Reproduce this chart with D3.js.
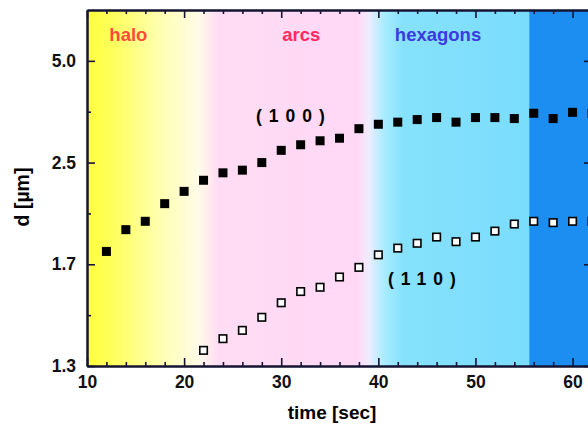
<!DOCTYPE html>
<html>
<head>
<meta charset="utf-8">
<script src="https://cdn.jsdelivr.net/npm/d3@7"></script>
<style>
  body { margin: 0; background: #fff; }
  text { font-family: "Liberation Sans", Arial, sans-serif; font-weight: bold; }
</style>
</head>
<body>
<svg id="chart"></svg>
<script>
// time axis (sec)
let xTicks = [10, 20, 30, 40, 50, 60];
let xMinor = [12, 14, 16, 18, 22, 24, 26, 28, 32, 34, 36, 38, 42, 44, 46, 48, 52, 54, 56, 58];

// y axis is linear in 1/d, labelled with d
let yTicks = [0.2, 0.4, 0.6, 0.8];
let yTickLabels = ["5.0", "2.5", "1.7", "1.3"];
let yMinor = [0.3, 0.5, 0.7];

// (100) reflection, filled squares
let time100 = [12, 14, 16, 18, 20, 22, 24, 26, 28, 30, 32, 34, 36, 38, 40, 42, 44, 46, 48, 50, 52, 54, 56, 58, 60, 62];
let d100 = [1.74, 1.88, 1.94, 2.08, 2.19, 2.30, 2.38, 2.41, 2.50, 2.66, 2.74, 2.80, 2.84, 3.00, 3.08, 3.12, 3.17, 3.21, 3.12, 3.21, 3.21, 3.19, 3.30, 3.19, 3.32, 3.30];

// (110) reflection, open squares
let time110 = [22, 24, 26, 28, 30, 32, 34, 36, 38, 40, 42, 44, 46, 48, 50, 52, 54, 56, 58, 60, 62];
let d110 = [1.30, 1.34, 1.37, 1.42, 1.48, 1.53, 1.55, 1.60, 1.65, 1.72, 1.76, 1.79, 1.83, 1.80, 1.83, 1.87, 1.92, 1.94, 1.93, 1.94, 1.94];

// phase regions
let phases = ["halo", "arcs", "hexagons"];
let phaseTime = [12.3, 30.1, 41.7];
let phaseColor = ["#ff4b3a", "#ff2a62", "#3a3ae0"];

// background colour stops along time
let bgTime = [10, 13, 17, 21.5, 23.5, 37.8, 39, 40.6, 42.5, 55.5, 55.6, 62];
let bgColor = ["#ffff3a", "#ffff62", "#ffffa8", "#fffbe8", "#ffdcf4", "#ffd8f5", "#f0ecff", "#a8ecff", "#86e2fc", "#7adcfc", "#1c8ef2", "#1c8ef2"];

let w = 588, h = 428;
let margin = { top: 10, left: 87, bottom: 366, right: 592 };

let x = d3.scaleLinear().domain([10, 62]).range([margin.left, margin.right]);
let y = d3.scaleLinear().domain([0.1, 0.8]).range([margin.top, margin.bottom]);

let svg = d3.select("#chart")
    .attr("width", w)
    .attr("height", h);

// gradient background
let grad = svg.append("defs").append("linearGradient")
    .attr("id", "bg")
    .attr("gradientUnits", "userSpaceOnUse")
    .attr("x1", x(10)).attr("x2", x(62))
    .attr("y1", 0).attr("y2", 0);

grad.selectAll("stop")
    .data(bgTime)
    .enter()
    .append("stop")
    .attr("offset", function (d) { return (d - 10) / 52; })
    .attr("stop-color", function (d, i) { return bgColor[i]; });

svg.append("rect")
    .attr("x", x(10))
    .attr("y", y(0.1))
    .attr("width", x(62) - x(10))
    .attr("height", y(0.8) - y(0.1))
    .attr("fill", "url(#bg)");

// phase labels
svg.selectAll(".phase")
    .data(phases)
    .enter()
    .append("text")
    .attr("class", "phase")
    .attr("x", function (d, i) { return x(phaseTime[i]); })
    .attr("y", 41)
    .attr("fill", function (d, i) { return phaseColor[i]; })
    .style("font-size", "18.5px")
    .text(function (d) { return d; });

// axes
function styleAxis(g) {
    g.selectAll("path").attr("stroke", "#141432").attr("stroke-width", 2);
    g.selectAll("line").attr("stroke", "#141432").attr("stroke-width", 1.6);
    g.selectAll("text").attr("fill", "#111").style("font-size", "17.5px").style("font-family", "Liberation Sans, Arial, sans-serif").style("font-weight", "bold");
}

svg.append("g")
    .attr("transform", "translate(0," + margin.bottom + ")")
    .call(d3.axisBottom(x).tickValues(xTicks).tickSizeInner(-8).tickSizeOuter(0).tickPadding(10))
    .call(styleAxis);
svg.append("g")
    .attr("transform", "translate(0," + margin.bottom + ")")
    .call(d3.axisBottom(x).tickValues(xMinor).tickSizeInner(-4).tickSizeOuter(0).tickFormat(""))
    .call(styleAxis);

svg.append("g")
    .attr("transform", "translate(0," + margin.top + ")")
    .call(d3.axisTop(x).tickValues(xTicks).tickSizeInner(-8).tickSizeOuter(0).tickFormat(""))
    .call(styleAxis);
svg.append("g")
    .attr("transform", "translate(0," + margin.top + ")")
    .call(d3.axisTop(x).tickValues(xMinor).tickSizeInner(-4).tickSizeOuter(0).tickFormat(""))
    .call(styleAxis);

svg.append("g")
    .attr("transform", "translate(" + margin.left + ",0)")
    .call(d3.axisLeft(y).tickValues(yTicks).tickSizeInner(-8).tickSizeOuter(0).tickPadding(11)
        .tickFormat(function (d, i) { return yTickLabels[i]; }))
    .call(styleAxis);
svg.append("g")
    .attr("transform", "translate(" + margin.left + ",0)")
    .call(d3.axisLeft(y).tickValues(yMinor).tickSizeInner(-4).tickSizeOuter(0).tickFormat(""))
    .call(styleAxis);

svg.append("g")
    .attr("transform", "translate(" + margin.right + ",0)")
    .call(d3.axisRight(y).tickValues(yTicks).tickSizeInner(-8).tickSizeOuter(0).tickFormat(""))
    .call(styleAxis);
svg.append("g")
    .attr("transform", "translate(" + margin.right + ",0)")
    .call(d3.axisRight(y).tickValues(yMinor).tickSizeInner(-4).tickSizeOuter(0).tickFormat(""))
    .call(styleAxis);

// axis titles
svg.append("text")
    .attr("x", 332)
    .attr("y", 419)
    .attr("text-anchor", "middle")
    .style("font-size", "19px")
    .text("time [sec]");

svg.append("text")
    .attr("transform", "translate(29,197) rotate(-90)")
    .attr("text-anchor", "middle")
    .style("font-size", "19.5px")
    .text("d [µm]");

// (100) filled squares
let s100 = 9;
svg.selectAll(".p100")
    .data(time100)
    .enter()
    .append("rect")
    .attr("class", "p100")
    .attr("x", function (d) { return x(d) - s100 / 2; })
    .attr("y", function (d, i) { return y(1 / d100[i]) - s100 / 2; })
    .attr("width", s100)
    .attr("height", s100)
    .attr("fill", "#000");

// (110) open squares
let s110 = 7.5;
svg.selectAll(".p110")
    .data(time110)
    .enter()
    .append("rect")
    .attr("class", "p110")
    .attr("x", function (d) { return x(d) - s110 / 2; })
    .attr("y", function (d, i) { return y(1 / d110[i]) - s110 / 2; })
    .attr("width", s110)
    .attr("height", s110)
    .attr("fill", "#fff")
    .attr("stroke", "#000")
    .attr("stroke-width", 1.6);

// reflection labels
svg.append("text")
    .attr("x", 256)
    .attr("y", 122)
    .style("font-size", "17.5px")
    .style("letter-spacing", "7px")
    .text("(100)");

svg.append("text")
    .attr("x", 388)
    .attr("y", 285)
    .style("font-size", "17.5px")
    .style("letter-spacing", "7px")
    .text("(110)");
</script>
</body>
</html>
